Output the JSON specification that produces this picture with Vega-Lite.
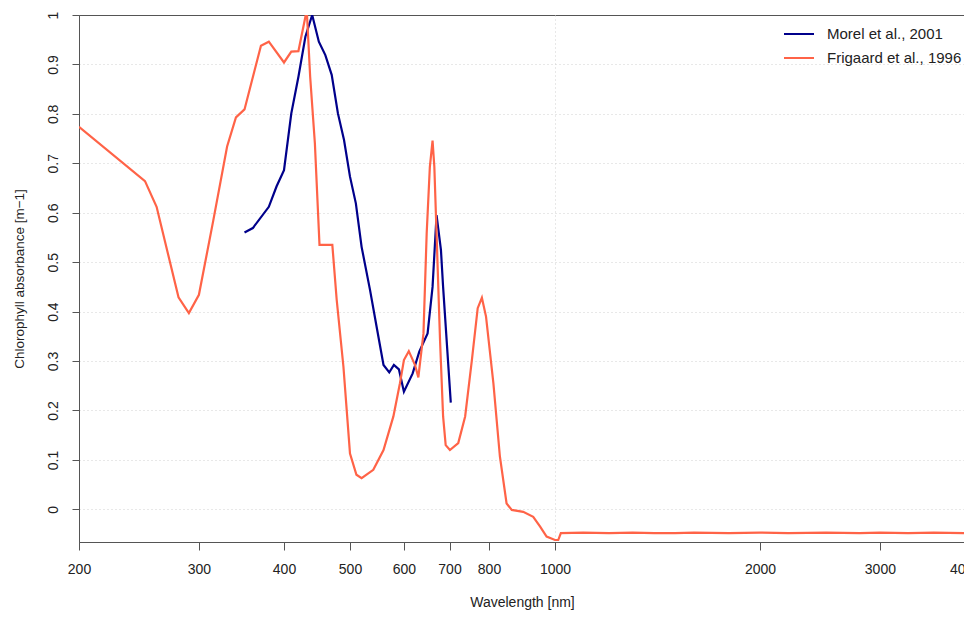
{
  "$schema": "https://vega.github.io/schema/vega-lite/v6.json",
  "autosize": {"type": "none"},
  "width": 886,
  "height": 527,
  "padding": {"left": 79, "top": 15, "right": 0, "bottom": 75},
  "background": "white",
  "config": {
    "font": "Liberation Sans",
    "view": {"stroke": "#555", "strokeWidth": 1},
    "axis": {
      "labelFont": "Liberation Sans",
      "titleFont": "Liberation Sans",
      "labelFontSize": 14,
      "titleFontSize": 14,
      "titleFontWeight": "normal",
      "labelColor": "#222",
      "titleColor": "#222",
      "domainColor": "#555",
      "tickColor": "#555",
      "domainWidth": 1,
      "tickWidth": 1
    },
    "legend": {"labelFont": "Liberation Sans"}
  },
  "data": {
    "values": [
      {"wl": 350, "a": 0.560, "src": "Morel et al., 2001"},
      {"wl": 360, "a": 0.569, "src": "Morel et al., 2001"},
      {"wl": 380, "a": 0.612, "src": "Morel et al., 2001"},
      {"wl": 390, "a": 0.653, "src": "Morel et al., 2001"},
      {"wl": 400, "a": 0.686, "src": "Morel et al., 2001"},
      {"wl": 410, "a": 0.801, "src": "Morel et al., 2001"},
      {"wl": 420, "a": 0.875, "src": "Morel et al., 2001"},
      {"wl": 430, "a": 0.956, "src": "Morel et al., 2001"},
      {"wl": 440, "a": 1.000, "src": "Morel et al., 2001"},
      {"wl": 450, "a": 0.946, "src": "Morel et al., 2001"},
      {"wl": 460, "a": 0.919, "src": "Morel et al., 2001"},
      {"wl": 470, "a": 0.879, "src": "Morel et al., 2001"},
      {"wl": 480, "a": 0.801, "src": "Morel et al., 2001"},
      {"wl": 490, "a": 0.747, "src": "Morel et al., 2001"},
      {"wl": 500, "a": 0.673, "src": "Morel et al., 2001"},
      {"wl": 510, "a": 0.619, "src": "Morel et al., 2001"},
      {"wl": 520, "a": 0.531, "src": "Morel et al., 2001"},
      {"wl": 535, "a": 0.444, "src": "Morel et al., 2001"},
      {"wl": 547, "a": 0.370, "src": "Morel et al., 2001"},
      {"wl": 560, "a": 0.292, "src": "Morel et al., 2001"},
      {"wl": 571, "a": 0.277, "src": "Morel et al., 2001"},
      {"wl": 580, "a": 0.292, "src": "Morel et al., 2001"},
      {"wl": 590, "a": 0.283, "src": "Morel et al., 2001"},
      {"wl": 600, "a": 0.238, "src": "Morel et al., 2001"},
      {"wl": 618, "a": 0.275, "src": "Morel et al., 2001"},
      {"wl": 632, "a": 0.319, "src": "Morel et al., 2001"},
      {"wl": 650, "a": 0.356, "src": "Morel et al., 2001"},
      {"wl": 661, "a": 0.450, "src": "Morel et al., 2001"},
      {"wl": 670, "a": 0.595, "src": "Morel et al., 2001"},
      {"wl": 680, "a": 0.525, "src": "Morel et al., 2001"},
      {"wl": 685, "a": 0.450, "src": "Morel et al., 2001"},
      {"wl": 703, "a": 0.216, "src": "Morel et al., 2001"},
      {"wl": 200, "a": 0.774, "src": "Frigaard et al., 1996"},
      {"wl": 250, "a": 0.664, "src": "Frigaard et al., 1996"},
      {"wl": 260, "a": 0.612, "src": "Frigaard et al., 1996"},
      {"wl": 280, "a": 0.429, "src": "Frigaard et al., 1996"},
      {"wl": 290, "a": 0.397, "src": "Frigaard et al., 1996"},
      {"wl": 300, "a": 0.434, "src": "Frigaard et al., 1996"},
      {"wl": 315, "a": 0.585, "src": "Frigaard et al., 1996"},
      {"wl": 330, "a": 0.734, "src": "Frigaard et al., 1996"},
      {"wl": 340, "a": 0.793, "src": "Frigaard et al., 1996"},
      {"wl": 350, "a": 0.809, "src": "Frigaard et al., 1996"},
      {"wl": 370, "a": 0.938, "src": "Frigaard et al., 1996"},
      {"wl": 380, "a": 0.946, "src": "Frigaard et al., 1996"},
      {"wl": 400, "a": 0.904, "src": "Frigaard et al., 1996"},
      {"wl": 410, "a": 0.926, "src": "Frigaard et al., 1996"},
      {"wl": 420, "a": 0.927, "src": "Frigaard et al., 1996"},
      {"wl": 432, "a": 1.010, "src": "Frigaard et al., 1996"},
      {"wl": 437, "a": 0.875, "src": "Frigaard et al., 1996"},
      {"wl": 444, "a": 0.741, "src": "Frigaard et al., 1996"},
      {"wl": 451, "a": 0.535, "src": "Frigaard et al., 1996"},
      {"wl": 471, "a": 0.535, "src": "Frigaard et al., 1996"},
      {"wl": 478, "a": 0.424, "src": "Frigaard et al., 1996"},
      {"wl": 489, "a": 0.289, "src": "Frigaard et al., 1996"},
      {"wl": 500, "a": 0.113, "src": "Frigaard et al., 1996"},
      {"wl": 511, "a": 0.070, "src": "Frigaard et al., 1996"},
      {"wl": 520, "a": 0.063, "src": "Frigaard et al., 1996"},
      {"wl": 541, "a": 0.080, "src": "Frigaard et al., 1996"},
      {"wl": 560, "a": 0.120, "src": "Frigaard et al., 1996"},
      {"wl": 579, "a": 0.188, "src": "Frigaard et al., 1996"},
      {"wl": 592, "a": 0.255, "src": "Frigaard et al., 1996"},
      {"wl": 600, "a": 0.302, "src": "Frigaard et al., 1996"},
      {"wl": 610, "a": 0.320, "src": "Frigaard et al., 1996"},
      {"wl": 623, "a": 0.292, "src": "Frigaard et al., 1996"},
      {"wl": 630, "a": 0.267, "src": "Frigaard et al., 1996"},
      {"wl": 641, "a": 0.356, "src": "Frigaard et al., 1996"},
      {"wl": 648, "a": 0.558, "src": "Frigaard et al., 1996"},
      {"wl": 655, "a": 0.693, "src": "Frigaard et al., 1996"},
      {"wl": 661, "a": 0.746, "src": "Frigaard et al., 1996"},
      {"wl": 665, "a": 0.693, "src": "Frigaard et al., 1996"},
      {"wl": 670, "a": 0.558, "src": "Frigaard et al., 1996"},
      {"wl": 678, "a": 0.340, "src": "Frigaard et al., 1996"},
      {"wl": 685, "a": 0.188, "src": "Frigaard et al., 1996"},
      {"wl": 691, "a": 0.130, "src": "Frigaard et al., 1996"},
      {"wl": 701, "a": 0.120, "src": "Frigaard et al., 1996"},
      {"wl": 721, "a": 0.134, "src": "Frigaard et al., 1996"},
      {"wl": 738, "a": 0.188, "src": "Frigaard et al., 1996"},
      {"wl": 755, "a": 0.302, "src": "Frigaard et al., 1996"},
      {"wl": 770, "a": 0.407, "src": "Frigaard et al., 1996"},
      {"wl": 781, "a": 0.428, "src": "Frigaard et al., 1996"},
      {"wl": 792, "a": 0.390, "src": "Frigaard et al., 1996"},
      {"wl": 812, "a": 0.255, "src": "Frigaard et al., 1996"},
      {"wl": 830, "a": 0.107, "src": "Frigaard et al., 1996"},
      {"wl": 849, "a": 0.012, "src": "Frigaard et al., 1996"},
      {"wl": 864, "a": -0.001, "src": "Frigaard et al., 1996"},
      {"wl": 898, "a": -0.005, "src": "Frigaard et al., 1996"},
      {"wl": 929, "a": -0.015, "src": "Frigaard et al., 1996"},
      {"wl": 951, "a": -0.035, "src": "Frigaard et al., 1996"},
      {"wl": 972, "a": -0.055, "src": "Frigaard et al., 1996"},
      {"wl": 1000, "a": -0.062, "src": "Frigaard et al., 1996"},
      {"wl": 1011, "a": -0.062, "src": "Frigaard et al., 1996"},
      {"wl": 1020, "a": -0.048, "src": "Frigaard et al., 1996"},
      {"wl": 1100, "a": -0.047, "src": "Frigaard et al., 1996"},
      {"wl": 1200, "a": -0.048, "src": "Frigaard et al., 1996"},
      {"wl": 1300, "a": -0.047, "src": "Frigaard et al., 1996"},
      {"wl": 1400, "a": -0.048, "src": "Frigaard et al., 1996"},
      {"wl": 1500, "a": -0.048, "src": "Frigaard et al., 1996"},
      {"wl": 1600, "a": -0.047, "src": "Frigaard et al., 1996"},
      {"wl": 1800, "a": -0.048, "src": "Frigaard et al., 1996"},
      {"wl": 2000, "a": -0.047, "src": "Frigaard et al., 1996"},
      {"wl": 2200, "a": -0.048, "src": "Frigaard et al., 1996"},
      {"wl": 2500, "a": -0.047, "src": "Frigaard et al., 1996"},
      {"wl": 2800, "a": -0.048, "src": "Frigaard et al., 1996"},
      {"wl": 3000, "a": -0.047, "src": "Frigaard et al., 1996"},
      {"wl": 3300, "a": -0.048, "src": "Frigaard et al., 1996"},
      {"wl": 3600, "a": -0.047, "src": "Frigaard et al., 1996"},
      {"wl": 4000, "a": -0.048, "src": "Frigaard et al., 1996"}
    ]
  },
  "mark": {"type": "line", "strokeWidth": 2.2, "clip": true},
  "encoding": {
    "x": {
      "field": "wl",
      "type": "quantitative",
      "scale": {"type": "log", "domain": [200, 4000], "nice": false},
      "axis": {
        "title": "Wavelength [nm]",
        "values": [200, 300, 400, 500, 600, 700, 800, 1000, 2000, 3000, 4000],
        "format": "d",
        "tickSize": 8,
        "labelPadding": 12,
        "labelFlush": false,
        "labelOverlap": false,
        "titlePadding": 19,
        "grid": true,
        "gridColor": "#d0d0d0",
        "gridDash": [1, 3],
        "gridOpacity": {"condition": {"test": "datum.value === 1000", "value": 1}, "value": 0}
      }
    },
    "y": {
      "field": "a",
      "type": "quantitative",
      "scale": {"domain": [-0.066, 1], "nice": false, "zero": false},
      "axis": {
        "title": "Chlorophyll absorbance [m−1]",
        "values": [0, 0.1, 0.2, 0.3, 0.4, 0.5, 0.6, 0.7, 0.8, 0.9, 1],
        "format": ".1~f",
        "labelAngle": -90,
        "labelAlign": "center",
        "labelBaseline": "bottom",
        "tickSize": 7,
        "labelPadding": 12,
        "labelFlush": false,
        "labelOverlap": false,
        "titlePadding": 20,
        "titleFontSize": 13.5,
        "grid": true,
        "gridColor": "#d0d0d0",
        "gridDash": [1, 3],
        "gridOpacity": {"condition": {"test": "datum.value === 1", "value": 0}, "value": 1}
      }
    },
    "color": {
      "field": "src",
      "type": "nominal",
      "scale": {
        "domain": ["Morel et al., 2001", "Frigaard et al., 1996"],
        "range": ["#00008B", "#FF6347"]
      },
      "legend": {
        "title": null,
        "orient": "none",
        "legendX": 704,
        "legendY": 3,
        "symbolType": "stroke",
        "symbolSize": 900,
        "symbolStrokeWidth": 2,
        "labelFontSize": 15,
        "labelColor": "#222",
        "labelOffset": 12,
        "rowPadding": -12,
        "padding": 0
      }
    }
  }
}
